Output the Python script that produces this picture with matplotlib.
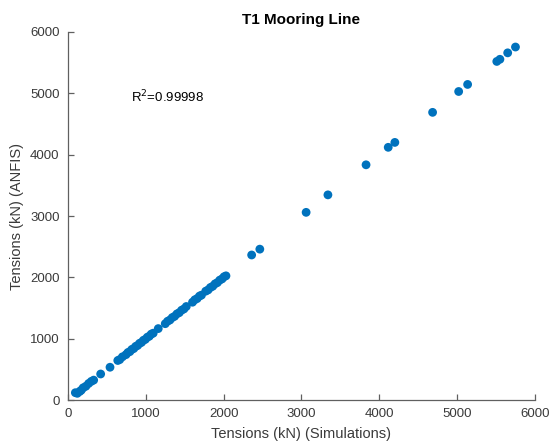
import matplotlib.pyplot as plt

plt.rcParams['font.family'] = ['Liberation Sans', 'DejaVu Sans']

# simulated vs ANFIS tensions (kN)
sim = [95, 120, 150, 170, 195, 230, 265, 300, 330, 420, 540, 640, 665, 700,
       745, 770, 795, 820, 845, 870, 895, 920, 945, 970, 995, 1020, 1045,
       1070, 1095, 1160, 1250, 1280, 1310, 1340, 1370, 1400, 1430, 1460,
       1490, 1520, 1600, 1630, 1660, 1690, 1715, 1770, 1800, 1830, 1860,
       1890, 1920, 1950, 1980, 2005, 2030, 2360, 2465, 3060, 3340, 3830,
       4115, 4200, 4685, 5020, 5135, 5510, 5550, 5650, 5750]
anfis = [120, 110, 140, 160, 200, 225, 270, 305, 325, 425, 535, 645, 660, 705,
         740, 775, 790, 825, 840, 875, 890, 925, 940, 975, 990, 1025, 1040,
         1075, 1090, 1165, 1245, 1285, 1305, 1345, 1365, 1405, 1425, 1465,
         1485, 1525, 1595, 1635, 1655, 1695, 1710, 1775, 1795, 1835, 1855,
         1895, 1915, 1955, 1975, 2010, 2025, 2365, 2460, 3060, 3345, 3835,
         4120, 4200, 4690, 5030, 5145, 5520, 5555, 5660, 5755]

xticks = [0, 1000, 2000, 3000, 4000, 5000, 6000]
yticks = [0, 1000, 2000, 3000, 4000, 5000, 6000]

fig = plt.figure(figsize=(5.5, 4.48), dpi=100)
ax = fig.add_axes([0.1236, 0.107, 0.849, 0.8216])

ax.scatter(sim, anfis, s=40, color='#0072BD', edgecolors='none', zorder=3)

ax.set_xlim(0, 6000)
ax.set_ylim(0, 6000)
ax.set_xticks(xticks)
ax.set_yticks(yticks)

axis_col = '#606060'
for side in ['top', 'right']:
    ax.spines[side].set_visible(False)
for side in ['left', 'bottom']:
    ax.spines[side].set_color(axis_col)
    ax.spines[side].set_linewidth(0.9)
ax.tick_params(direction='in', length=4, width=0.9, color=axis_col,
               labelcolor='#3a3a3a', labelsize=9.5, pad=6)

ax.set_xlabel('Tensions (kN) (Simulations)', fontsize=10.5, color='#3a3a3a', labelpad=5)
ax.set_ylabel('Tensions (kN) (ANFIS)', fontsize=10.5, color='#3a3a3a', labelpad=4)
ax.set_title('T1 Mooring Line', fontsize=11, fontweight='bold', pad=6)

ax.text(810, 4940, 'R$^2$=0.99998', fontsize=9.5, va='center', ha='left')

fig.savefig('out.png', dpi=100)
